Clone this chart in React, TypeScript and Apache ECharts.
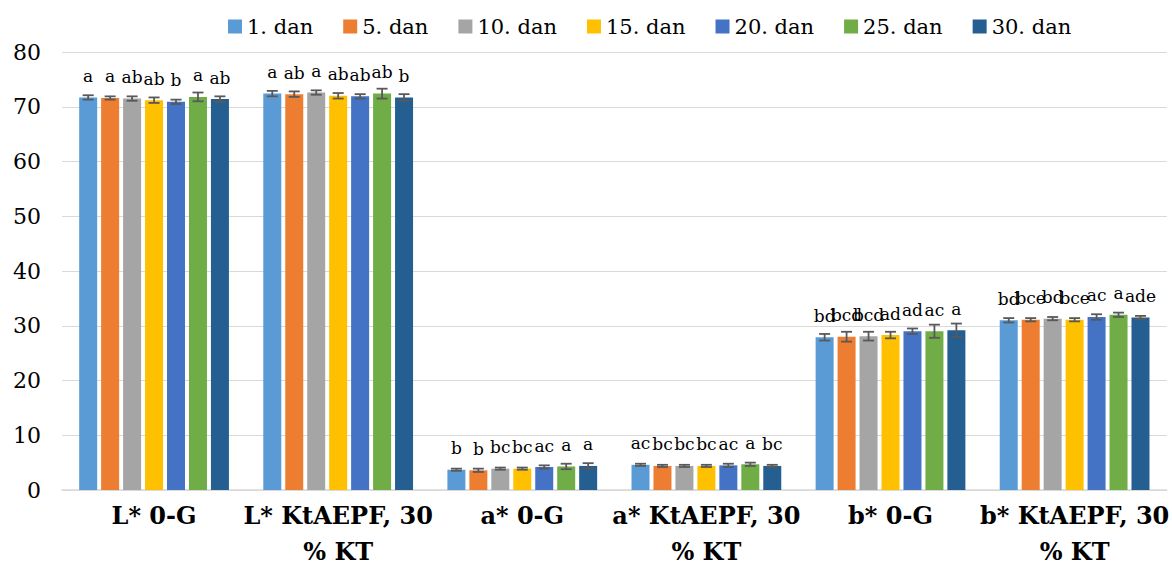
// build 7: DejaVu Serif sized to the reference widths
import React, { useEffect, useRef } from "react";
import * as echarts from "echarts";

const FONT = "DejaVu Serif";

const categories = [
  "L* 0-G",
  "L* KtAEPF, 30\n% KT",
  "a* 0-G",
  "a* KtAEPF, 30\n% KT",
  "b* 0-G",
  "b* KtAEPF, 30\n% KT",
];

const seriesNames = ["1. dan", "5. dan", "10. dan", "15. dan", "20. dan", "25. dan", "30. dan"];

const day1 = [71.7, 72.4, 3.7, 4.6, 27.9, 31.0];
const day5 = [71.6, 72.3, 3.6, 4.4, 28.0, 31.1];
const day10 = [71.5, 72.6, 3.9, 4.4, 28.1, 31.3];
const day15 = [71.2, 72.0, 3.9, 4.4, 28.3, 31.1];
const day20 = [70.9, 71.9, 4.2, 4.5, 29.0, 31.6];
const day25 = [71.8, 72.4, 4.3, 4.7, 29.0, 32.0];
const day30 = [71.4, 71.7, 4.4, 4.4, 29.2, 31.5];

const err1 = [0.4, 0.5, 0.2, 0.2, 0.6, 0.4];
const err5 = [0.3, 0.5, 0.3, 0.2, 0.9, 0.3];
const err10 = [0.4, 0.4, 0.2, 0.2, 0.8, 0.3];
const err15 = [0.5, 0.5, 0.2, 0.2, 0.6, 0.3];
const err20 = [0.4, 0.4, 0.3, 0.3, 0.5, 0.5];
const err25 = [0.8, 0.9, 0.5, 0.3, 1.2, 0.4];
const err30 = [0.5, 0.6, 0.5, 0.2, 1.2, 0.3];

const let1 = ["a", "a", "b", "ac", "bd", "bd"];
const let5 = ["a", "ab", "b", "bc", "bcd", "bce"];
const let10 = ["ab", "a", "bc", "bc", "bcd", "bd"];
const let15 = ["ab", "ab", "bc", "bc", "ad", "bce"];
const let20 = ["b", "ab", "ac", "ac", "ad", "ac"];
const let25 = ["a", "ab", "a", "a", "ac", "a"];
const let30 = ["ab", "b", "a", "bc", "a", "ade"];

const yTicks = { min: 0, max: 80, interval: 10 };

const values = [day1, day5, day10, day15, day20, day25, day30];
const errors = [err1, err5, err10, err15, err20, err25, err30];
const letters = [let1, let5, let10, let15, let20, let25, let30];

const colors = ["#5B9BD5", "#ED7D31", "#A5A5A5", "#FFC000", "#4472C4", "#70AD47", "#255E91"];

const BAR_W = 18;
const GAP_RATIO = 0.22;
const PITCH = BAR_W * (1 + GAP_RATIO);

export default function App() {
  const ref = useRef<HTMLDivElement>(null);

  useEffect(() => {
    if (!ref.current) return;
    const chart = echarts.init(ref.current, undefined, { renderer: "svg" });

    const barSeries = seriesNames.map((name, i) => ({
      name,
      type: "bar",
      data: values[i],
      barWidth: BAR_W,
      barGap: `${GAP_RATIO * 100}%`,
      itemStyle: { color: colors[i] },
      label: {
        show: true,
        position: "top",
        distance: 13,
        fontFamily: FONT,
        fontSize: 17,
        color: "#000",
        formatter: (p: any) => letters[i][p.dataIndex],
      },
      z: 2,
    }));

    const errSeries = seriesNames.map((name, i) => ({
      name: name + " err",
      type: "custom",
      data: values[i].map((v, k) => [k, v, errors[i][k]]),
      z: 5,
      renderItem: (params: any, api: any) => {
        const k = api.value(0);
        const v = api.value(1);
        const e = api.value(2);
        const hi = api.coord([k, v + e]);
        const lo = api.coord([k, v - e]);
        const x = hi[0] + (i - 3) * PITCH;
        const cw = 5.5;
        const style = { stroke: "#595959", lineWidth: 1.8 };
        return {
          type: "group",
          children: [
            { type: "line", shape: { x1: x, y1: hi[1], x2: x, y2: lo[1] }, style },
            { type: "line", shape: { x1: x - cw, y1: hi[1], x2: x + cw, y2: hi[1] }, style },
            { type: "line", shape: { x1: x - cw, y1: lo[1], x2: x + cw, y2: lo[1] }, style },
          ],
        };
      },
    }));

    chart.setOption({
      animation: false,
      textStyle: { fontFamily: FONT },
      legend: {
        data: seriesNames,
        left: 223,
        top: 11,
        itemWidth: 14,
        itemHeight: 14,
        itemGap: 30,
        icon: "rect",
        textStyle: { fontFamily: FONT, fontSize: 21, color: "#000" },
      },
      grid: { left: 62, right: 2, top: 52, bottom: 70 },
      xAxis: {
        type: "category",
        data: categories,
        axisLine: { lineStyle: { color: "#D9D9D9", width: 1.5 } },
        axisTick: { show: false },
        axisLabel: {
          interval: 0,
          margin: 7,
          fontFamily: FONT,
          fontSize: 24,
          fontWeight: "bold",
          color: "#000",
          lineHeight: 36,
        },
      },
      yAxis: {
        type: "value",
        min: yTicks.min,
        max: yTicks.max,
        interval: yTicks.interval,
        axisLine: { show: false },
        axisTick: { show: false },
        splitLine: { lineStyle: { color: "#D9D9D9", width: 1.2 } },
        axisLabel: { margin: 21, fontFamily: FONT, fontSize: 22, color: "#000" },
      },
      series: [...barSeries, ...errSeries],
    });

    return () => chart.dispose();
  }, []);

  return (
    <div
      ref={ref}
      style={{ position: "fixed", left: 0, top: 0, width: 1172, height: 569, background: "#fff" }}
    />
  );
}
